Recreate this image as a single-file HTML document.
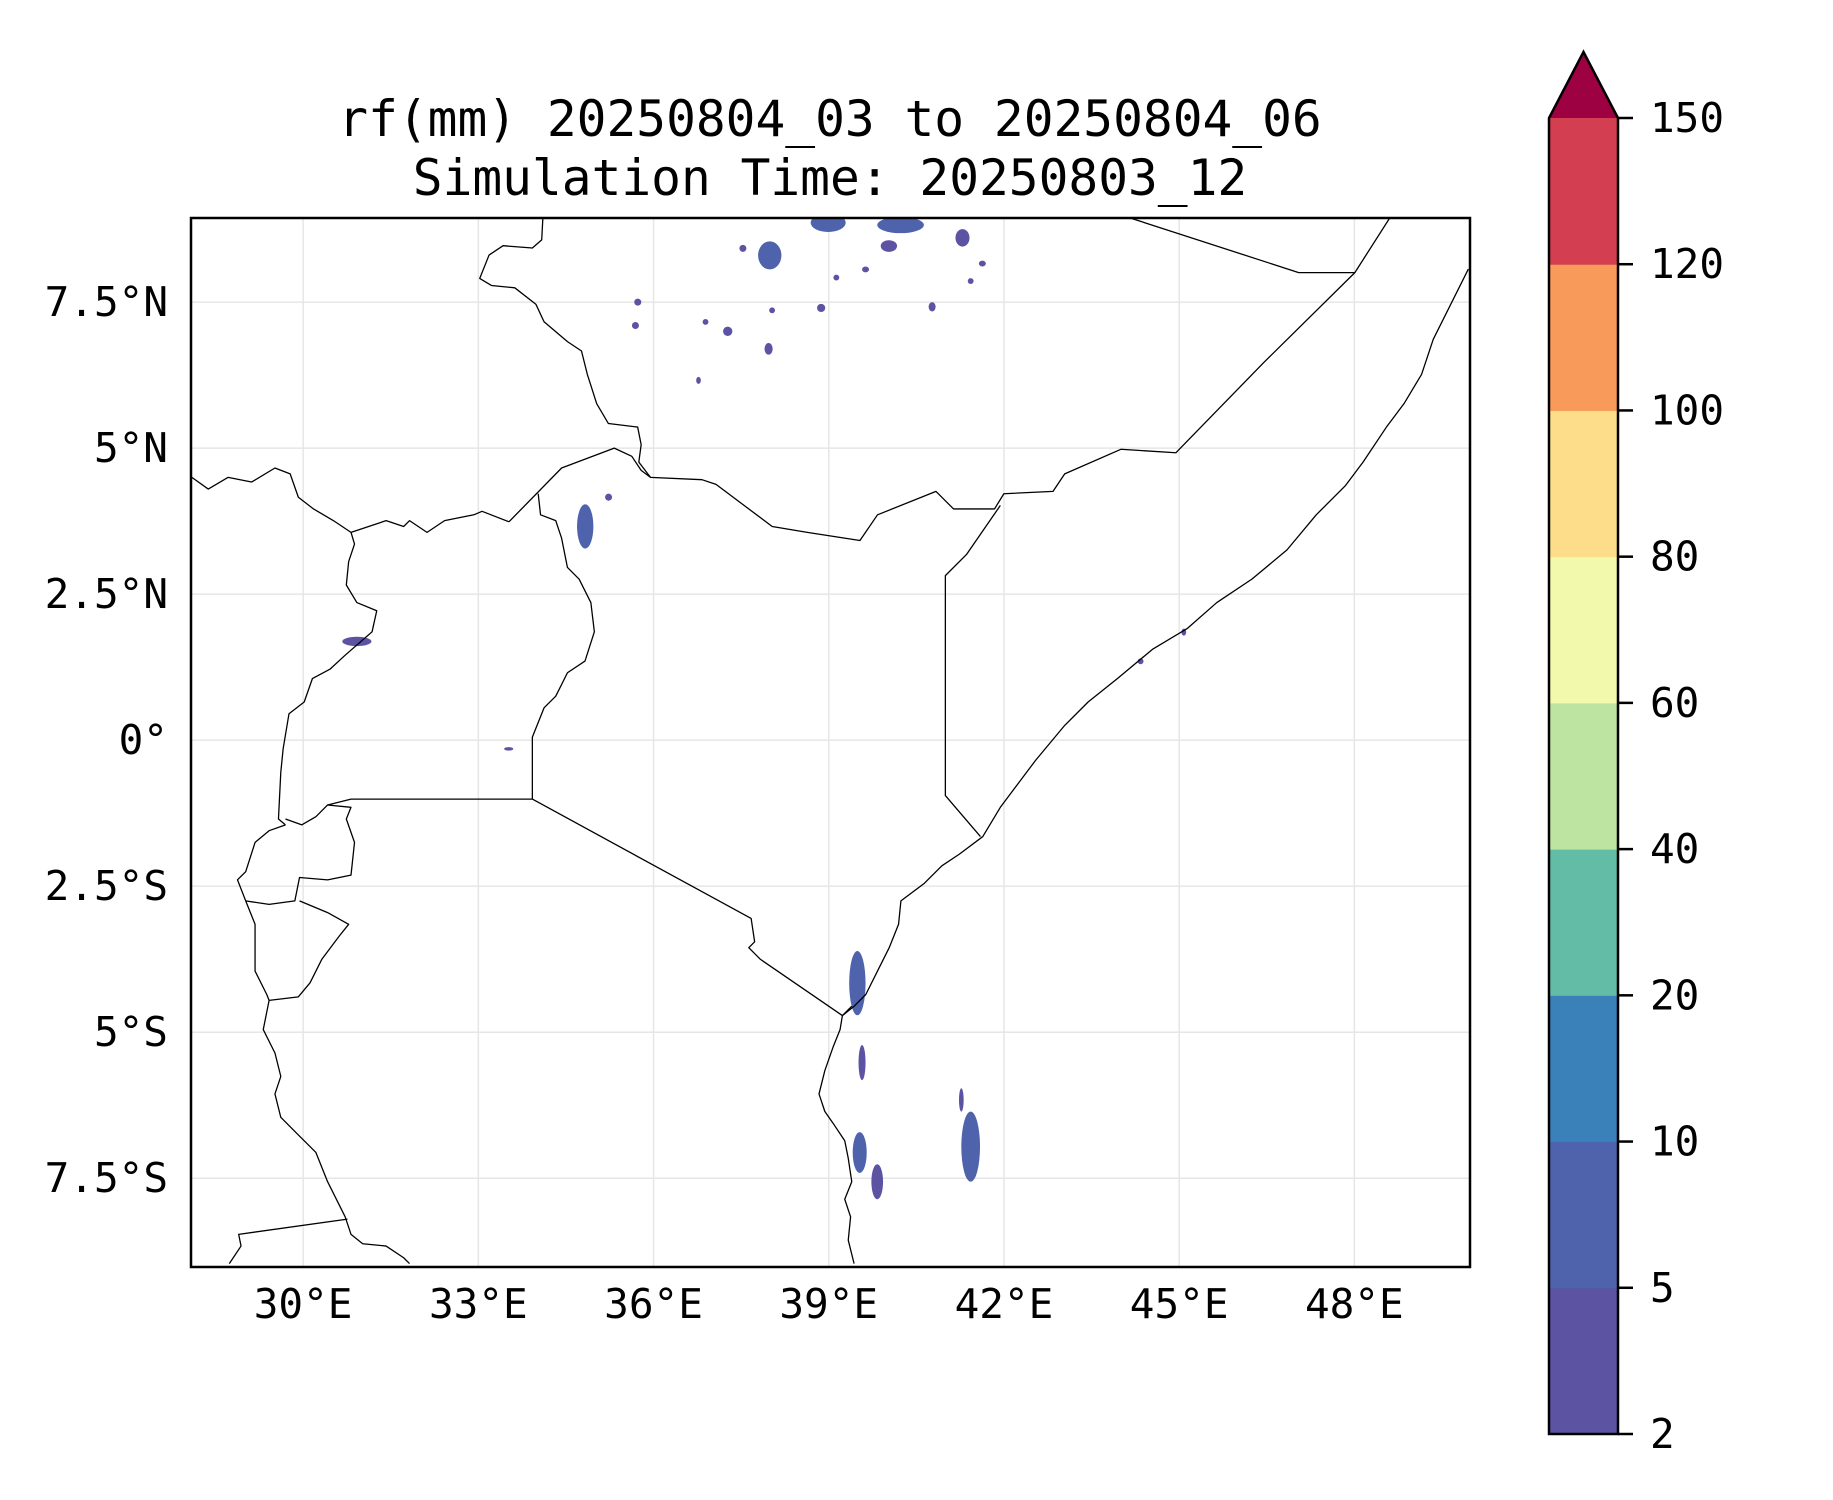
<!DOCTYPE html>
<html><head><meta charset="utf-8"><style>
html,body{margin:0;padding:0;background:#fff}
svg{display:block}
text{font-family:"DejaVu Sans Mono","Liberation Mono",monospace;fill:#000}
</style></head><body>
<svg id="fig" width="1833" height="1500" viewBox="0 0 1833 1500" xmlns="http://www.w3.org/2000/svg">
<rect width="1833" height="1500" fill="#fff"/>
<text x="830" y="136" font-size="49.5" text-anchor="middle">rf(mm) 20250804_03 to 20250804_06</text>
<text x="830" y="195" font-size="49.5" text-anchor="middle">Simulation Time: 20250803_12</text>
<defs><clipPath id="axclip"><rect x="191" y="218" width="1279" height="1049"/></clipPath></defs>
<g id="grid"></g>
<g id="rain" clip-path="url(#axclip)"></g>
<g clip-path="url(#axclip)">
<g transform="scale(1.17)" fill="none" stroke="#000" stroke-width="1.1" stroke-linejoin="round">
<polyline points="464,186 463,205 455,212 430,210 418,218 410,238 420,244 440,246 458,260 465,275 485,292 497,300 502,320 510,345 520,362 545,365 548,380 546,395 556,408"/>
<polyline points="435,446 480,400 525,383 540,390 548,402 556,408 600,410 612,414 660,450 690,455 735,462 750,440 800,420 815,435 850,435 858,422 900,420 910,405 958,384 1005,387 1080,310 1158,233 1188,186"/>
<polyline points="855,432 826,474 808,492 808,680 838,715"/>
<polyline points="965,186 1110,233 1158,233"/>
<polyline points="164,408 178,418 195,408 215,412 235,400 248,405 255,425 268,435 285,445 300,455 330,445 345,450 350,445 365,455 380,445 405,440 412,437 435,446"/>
<polyline points="460,422 462,440 475,445 480,460 485,485 495,495 505,515 508,540 500,565 485,575 475,595 465,605 455,630 455,683"/>
<polyline points="455,683 642,785 645,805 640,810 650,820 720,868 728,860"/>
<polyline points="455,683 300,683 280,688"/>
<polyline points="300,455 303,465 298,480 296,500 305,515 322,522 318,540 295,560 282,572 267,580 260,600 247,610 242,640 240,660 238,700 244,705"/>
<polyline points="244,705 230,710 218,720 210,745 203,752 210,770 230,773 252,770 256,750 280,752 300,748 303,720 296,700 300,690 280,688 270,698 258,705 244,700"/>
<polyline points="256,770 280,780 298,790 290,800 275,820 265,840 255,852 230,855"/>
<polyline points="210,770 218,790 218,830 228,850 230,855 225,880 235,900 240,920 235,935 240,955 255,970 270,985 280,1010 295,1040 300,1055 310,1063 330,1065 345,1075 350,1080"/>
<polyline points="297,1042 204,1055 206,1065 196,1080"/>
<polyline points="1255,230 1250,240 1240,260 1225,290 1215,320 1200,345 1185,365 1165,395 1150,415 1125,440 1100,470 1070,495 1040,515 1015,537 985,555 955,580 930,600 910,620 885,650 870,670 855,690 840,715 820,730 805,740 790,755 770,770 768,790 760,810 750,830 740,850 730,860 720,868 718,880 712,895 705,915 700,935 705,950 712,960 722,975 725,990 728,1010 722,1025 727,1040 725,1060 730,1080"/>
</g>
</g>
<rect x="191" y="218" width="1279" height="1049" fill="none" stroke="#000" stroke-width="2.5"/>
<g id="ticks"></g>
<g id="cbar"></g>
</svg>
<script>
// map extent
const lonMin = 28.08, lonMax = 49.98, latMin = -9.02, latMax = 8.94;
const xTicks = [30, 33, 36, 39, 42, 45, 48];
const xTickLabels = ["30°E","33°E","36°E","39°E","42°E","45°E","48°E"];
const yTicks = [7.5, 5, 2.5, 0, -2.5, -5, -7.5];
const yTickLabels = ["7.5°N","5°N","2.5°N","0°","2.5°S","5°S","7.5°S"];
// rainfall blobs: centre lon/lat, radii (deg), value (mm)
const rainLon = [38.99,40.23,37.99,41.29,40.03,34.83,30.92,39.49,39.57,39.53,39.83,41.43,41.27,35.73,35.69,36.89,37.27,37.97,38.87,40.77,38.03,39.63,39.13,36.77,41.43,35.23,33.52,45.08,44.34,37.53,41.63];
const rainLat = [8.86,8.82,8.30,8.60,8.46,3.66,1.69,-4.16,-5.52,-7.06,-7.56,-6.96,-6.16,7.50,7.10,7.16,7.00,6.70,7.40,7.42,7.36,8.06,7.92,6.16,7.86,4.16,-0.15,1.85,1.35,8.42,8.16];
const rainRx = [0.30,0.40,0.20,0.12,0.14,0.14,0.25,0.14,0.06,0.12,0.10,0.16,0.04,0.06,0.06,0.05,0.08,0.07,0.07,0.06,0.05,0.06,0.05,0.04,0.05,0.06,0.08,0.04,0.05,0.06,0.06];
const rainRy = [0.16,0.14,0.24,0.15,0.10,0.38,0.08,0.55,0.30,0.35,0.30,0.60,0.20,0.06,0.06,0.05,0.08,0.10,0.07,0.08,0.05,0.05,0.05,0.06,0.05,0.06,0.03,0.06,0.05,0.06,0.05];
const rainVal = [6,6,6,4,4,6,4,6,4,6,4,6,3,3,3,3,3,3,3,3,3,3,3,3,3,3,3,3,3,3,3];
// colorbar
const cbLevels = [2,5,10,20,40,60,80,100,120,150];
const cbColors = ["#5c53a3","#4f63ad","#3a81ba","#63bca6","#bde4a1","#f2f9ac","#fddc8a","#f89b5a","#d43e51"];
const cbExtendColor = "#9e0142";

const NS = "http://www.w3.org/2000/svg";
const X0 = 191, X1 = 1470, Y0 = 218, Y1 = 1267;
function xOf(lon){ return X0 + (lon - lonMin) / (lonMax - lonMin) * (X1 - X0); }
function yOf(lat){ return Y0 + (latMax - lat) / (latMax - latMin) * (Y1 - Y0); }
function mk(tag, attrs, parent){ const e = document.createElementNS(NS, tag); for (const k in attrs) e.setAttribute(k, attrs[k]); parent.appendChild(e); return e; }

const grid = document.getElementById('grid');
const ticks = document.getElementById('ticks');
xTicks.forEach((v, i) => {
  const g = mk('line', {x1: xOf(v), x2: xOf(v), y1: Y0, y2: Y1, stroke: '#e6e6e6', 'stroke-width': 1.5}, grid);
  
  
  const t = mk('text', {x: xOf(v), y: 1318, 'font-size': 41, 'text-anchor': 'middle'}, ticks);
  t.textContent = xTickLabels[i];
  
  
});
yTicks.forEach((v, i) => {
  const g = mk('line', {x1: X0, x2: X1, y1: yOf(v), y2: yOf(v), stroke: '#e6e6e6', 'stroke-width': 1.5}, grid);
  
  
  const t = mk('text', {x: 168, y: yOf(v) + 14, 'font-size': 41, 'text-anchor': 'end'}, ticks);
  t.textContent = yTickLabels[i];
  
  
});

function colorFor(v){
  for (let i = 0; i < cbColors.length; i++) if (v < cbLevels[i+1]) return cbColors[i];
  return cbExtendColor;
}
const rain = document.getElementById('rain');
const pxPerDeg = (X1 - X0) / (lonMax - lonMin);
rainLon.forEach((lon, i) => {
  const e = mk('ellipse', {cx: xOf(lon), cy: yOf(rainLat[i]), rx: rainRx[i] * pxPerDeg, ry: rainRy[i] * pxPerDeg, fill: colorFor(rainVal[i])}, rain);
  
  
});

// colorbar
const cb = document.getElementById('cbar');
const CX0 = 1549, CX1 = 1618, CTOP = 118, CBOT = 1434, CTIP = 52;
const nB = cbColors.length, bh = (CBOT - CTOP) / nB;
function yCb(i){ return CBOT - i * bh; }
cbColors.forEach((c, i) => {
  const r = mk('rect', {x: CX0, y: yCb(i+1), width: CX1 - CX0, height: bh + 0.5, fill: c}, cb);
  
  
});
const tri = mk('polygon', {points: `${CX0},${CTOP} ${(CX0+CX1)/2},${CTIP} ${CX1},${CTOP}`, fill: cbExtendColor}, cb);


const outline = mk('polygon', {points: `${CX0},${CBOT} ${CX0},${CTOP} ${(CX0+CX1)/2},${CTIP} ${CX1},${CTOP} ${CX1},${CBOT}`, fill: 'none', stroke: '#000', 'stroke-width': 2.5}, cb);


cbLevels.forEach((v, i) => {
  const y = yCb(i);
  const tk = mk('line', {x1: CX1, x2: CX1 + 15, y1: y, y2: y, stroke: '#000', 'stroke-width': 2.5}, cb);
  
  
  const t = mk('text', {x: 1650, y: y + 14, 'font-size': 41}, cb);
  t.textContent = String(v);
  
  
});
</script>
</body></html>
